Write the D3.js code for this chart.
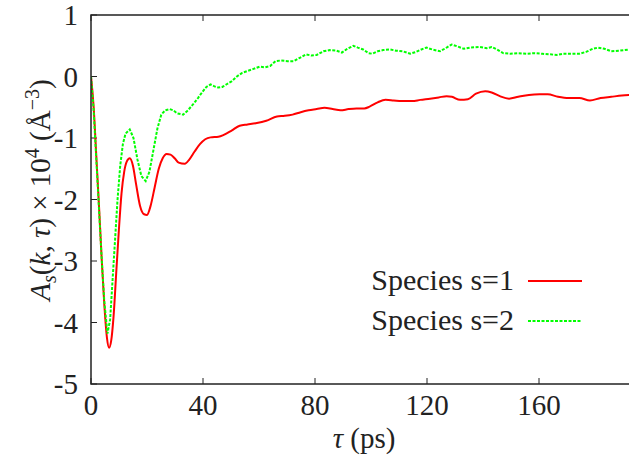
<!DOCTYPE html>
<html>
<head>
<meta charset="utf-8">
<script src="https://cdn.jsdelivr.net/npm/d3@7"></script>
<style>
  body { margin: 0; background: #fff; }
</style>
</head>
<body>
<div class="chart"></div>
<script>
// tau (ps) and A_s values
const tauRed = [0, 0.95, 1.9, 2.85, 3.8, 4.74, 5.7, 6.45, 7.2, 8.06, 9.0, 9.95, 10.9, 11.85, 12.8, 13.84, 14.98, 16.1, 17.5, 18.96, 20.0, 21.3, 22.75, 24.2, 25.6, 27.0, 28.4, 29.9, 31.3, 33.5, 35.1, 37.0, 38.9, 40.8, 42.7, 45.5, 47.4, 50.2, 53.1, 55.9, 58.8, 62.6, 66.4, 69.2, 72.0, 74.9, 77.7, 80.6, 83.4, 86.3, 89.1, 92.0, 94.8, 97.6, 99.5, 102.4, 105.2, 108.1, 110.9, 114.7, 117.6, 121.1, 124.2, 127.0, 128.9, 131.8, 134.6, 137.5, 140.8, 143.1, 146.0, 149.3, 152.6, 156.4, 160.2, 163.1, 166.8, 170.6, 174.4, 178.2, 182.0, 185.8, 189.6, 192.4];
const valRed = [0, -0.5, -1.3, -2.1, -2.95, -3.7, -4.25, -4.41, -4.3, -3.9, -3.2, -2.5, -1.9, -1.55, -1.38, -1.33, -1.45, -1.75, -2.1, -2.24, -2.25, -2.1, -1.8, -1.5, -1.33, -1.26, -1.27, -1.33, -1.4, -1.42, -1.35, -1.22, -1.1, -1.02, -0.99, -0.98, -0.95, -0.88, -0.80, -0.78, -0.76, -0.72, -0.65, -0.64, -0.62, -0.58, -0.55, -0.53, -0.51, -0.53, -0.55, -0.53, -0.52, -0.52, -0.49, -0.42, -0.38, -0.39, -0.40, -0.40, -0.38, -0.36, -0.34, -0.32, -0.33, -0.38, -0.37, -0.28, -0.24, -0.26, -0.32, -0.36, -0.33, -0.30, -0.29, -0.29, -0.33, -0.35, -0.35, -0.39, -0.35, -0.33, -0.31, -0.30];

const tauGreen = [0, 0.95, 1.9, 2.85, 3.8, 4.74, 5.88, 6.83, 7.58, 8.53, 9.48, 10.43, 11.38, 12.32, 13.84, 15.17, 16.59, 18.0, 19.53, 20.86, 22.28, 23.7, 25.1, 26.5, 28.06, 29.4, 30.8, 32.9, 34.6, 36.5, 38.2, 39.8, 41.2, 42.7, 44.1, 45.5, 46.9, 48.3, 50.2, 52.1, 54.0, 55.9, 57.8, 60.2, 62.1, 64.0, 65.9, 67.8, 70.2, 72.5, 74.4, 76.8, 78.7, 80.6, 83.0, 85.3, 87.7, 89.6, 91.5, 93.7, 95.3, 97.2, 99.1, 100.5, 102.4, 104.3, 106.7, 109.0, 111.4, 114.0, 116.1, 118.0, 119.8, 121.8, 124.7, 127.0, 128.8, 130.8, 133.2, 135.6, 138.9, 141.3, 143.1, 145.0, 147.2, 149.8, 152.6, 155.5, 158.3, 161.2, 164.0, 166.4, 168.7, 171.6, 174.4, 176.8, 179.2, 181.1, 183.4, 185.8, 188.7, 192.4];
const valGreen = [0, -0.55, -1.35, -2.15, -2.95, -3.65, -4.18, -3.95, -3.4, -2.7, -2.0, -1.45, -1.1, -0.93, -0.86, -1.0, -1.35, -1.62, -1.70, -1.55, -1.2, -0.85, -0.62, -0.55, -0.53, -0.55, -0.6, -0.62, -0.55, -0.45, -0.35, -0.25, -0.17, -0.13, -0.16, -0.18, -0.17, -0.13, -0.08, 0.0, 0.06, 0.09, 0.12, 0.16, 0.15, 0.17, 0.25, 0.26, 0.25, 0.25, 0.30, 0.36, 0.34, 0.35, 0.41, 0.43, 0.42, 0.39, 0.45, 0.50, 0.47, 0.44, 0.38, 0.37, 0.41, 0.43, 0.44, 0.42, 0.41, 0.37, 0.40, 0.44, 0.47, 0.44, 0.41, 0.47, 0.52, 0.49, 0.45, 0.47, 0.48, 0.46, 0.48, 0.44, 0.38, 0.37, 0.38, 0.37, 0.38, 0.37, 0.36, 0.35, 0.37, 0.37, 0.37, 0.40, 0.45, 0.47, 0.45, 0.41, 0.42, 0.44];

const xTicks = [0, 40, 80, 120, 160];
const yTicks = [-5, -4, -3, -2, -1, 0, 1];
const seriesNames = ["Species s=1", "Species s=2"];

const width = 629;
const height = 459;
const margin = { top: 15, left: 91, bottom: 75 };
const plotRight = 651; // frame continues past the picture edge
const serif = "'Liberation Serif', 'DejaVu Serif', serif";

const x = d3.scaleLinear().domain([0, 200]).range([margin.left, plotRight]);
const y = d3.scaleLinear().domain([-5, 1]).range([height - margin.bottom, margin.top]);

const svg = d3.select(".chart").append("svg")
    .attr("width", width)
    .attr("height", height)
    .attr("font-family", serif);

svg.append("clipPath").attr("id", "plotclip")
    .append("rect")
    .attr("x", margin.left).attr("y", margin.top)
    .attr("width", plotRight - margin.left)
    .attr("height", y(-5) - margin.top);

// ticks, pointing inward (gnuplot style, mirrored on top)
const tickLen = 6;
const grid = svg.append("g").attr("stroke", "#222").attr("stroke-width", 1);
xTicks.forEach(t => {
    grid.append("line").attr("x1", x(t)).attr("x2", x(t)).attr("y1", y(-5)).attr("y2", y(-5) - tickLen);
    grid.append("line").attr("x1", x(t)).attr("x2", x(t)).attr("y1", y(1)).attr("y2", y(1) + tickLen);
});
yTicks.forEach(v => {
    grid.append("line").attr("x1", x(0)).attr("x2", x(0) + tickLen).attr("y1", y(v)).attr("y2", y(v));
});

// tick labels
svg.append("g").selectAll("text")
    .data(xTicks)
    .enter().append("text")
    .attr("x", d => x(d))
    .attr("y", 415)
    .attr("text-anchor", "middle")
    .attr("font-family", serif)
    .attr("fill", "#222")
    .style("font-size", "29px")
    .text(d => d);

svg.append("g").selectAll("text")
    .data(yTicks)
    .enter().append("text")
    .attr("x", 78)
    .attr("y", d => y(d))
    .attr("dy", "0.35em")
    .attr("text-anchor", "end")
    .attr("font-family", serif)
    .attr("fill", "#222")
    .style("font-size", "29px")
    .text(d => d);

// curves
const redLine = d3.line().x((d, i) => x(tauRed[i])).y(d => y(d)).curve(d3.curveMonotoneX);
const greenLine = d3.line().x((d, i) => x(tauGreen[i])).y(d => y(d));

const curves = svg.append("g").attr("clip-path", "url(#plotclip)");
curves.append("path")
    .attr("d", redLine(valRed))
    .attr("fill", "none")
    .attr("stroke", "#ff0000")
    .attr("stroke-width", 2);
curves.append("path")
    .attr("d", greenLine(valGreen))
    .attr("fill", "none")
    .attr("stroke", "#00ff00")
    .attr("stroke-width", 2)
    .attr("stroke-dasharray", "3,1.5");

// frame
svg.append("rect")
    .attr("x", margin.left).attr("y", margin.top)
    .attr("width", plotRight - margin.left)
    .attr("height", y(-5) - margin.top)
    .attr("fill", "none")
    .attr("stroke", "#222")
    .attr("stroke-width", 1.5);

// legend
const legend = svg.append("g");
const legendY = [290, 330];
const legendStyle = [
    { stroke: "#ff0000", dash: null },
    { stroke: "#00ff00", dash: "3,1.5" }
];
seriesNames.forEach((name, i) => {
    legend.append("text")
        .attr("x", 514)
        .attr("y", legendY[i])
        .attr("text-anchor", "end")
        .attr("font-family", serif)
        .attr("fill", "#222")
        .style("font-size", "30px")
        .text(name);
    legend.append("line")
        .attr("x1", 528).attr("x2", 582)
        .attr("y1", legendY[i] - 9).attr("y2", legendY[i] - 9)
        .attr("stroke", legendStyle[i].stroke)
        .attr("stroke-width", 2)
        .attr("stroke-dasharray", legendStyle[i].dash);
});

// axis titles
const xt = svg.append("text")
    .attr("x", 364)
    .attr("y", 448)
    .attr("text-anchor", "middle")
    .attr("font-family", serif)
    .attr("fill", "#222")
    .style("font-size", "29px");
xt.append("tspan").style("font-style", "italic").text("τ");
xt.append("tspan").text(" (ps)");

const yt = svg.append("text")
    .attr("transform", "translate(50,190) rotate(-90)")
    .attr("text-anchor", "middle")
    .attr("font-family", serif)
    .attr("fill", "#222")
    .style("font-size", "29px");
yt.append("tspan").style("font-style", "italic").text("A");
yt.append("tspan").style("font-style", "italic").style("font-size", "20px").attr("dy", 6).text("s");
yt.append("tspan").attr("dy", -6).text("(");
yt.append("tspan").style("font-style", "italic").text("k");
yt.append("tspan").text(", ");
yt.append("tspan").style("font-style", "italic").text("τ");
yt.append("tspan").text(") × 10");
yt.append("tspan").style("font-size", "20px").attr("dy", -11).text("4");
yt.append("tspan").attr("dy", 11).text(" (Å");
yt.append("tspan").style("font-size", "20px").attr("dy", -11).text("−3");
yt.append("tspan").attr("dy", 11).text(")");
</script>
</body>
</html>
